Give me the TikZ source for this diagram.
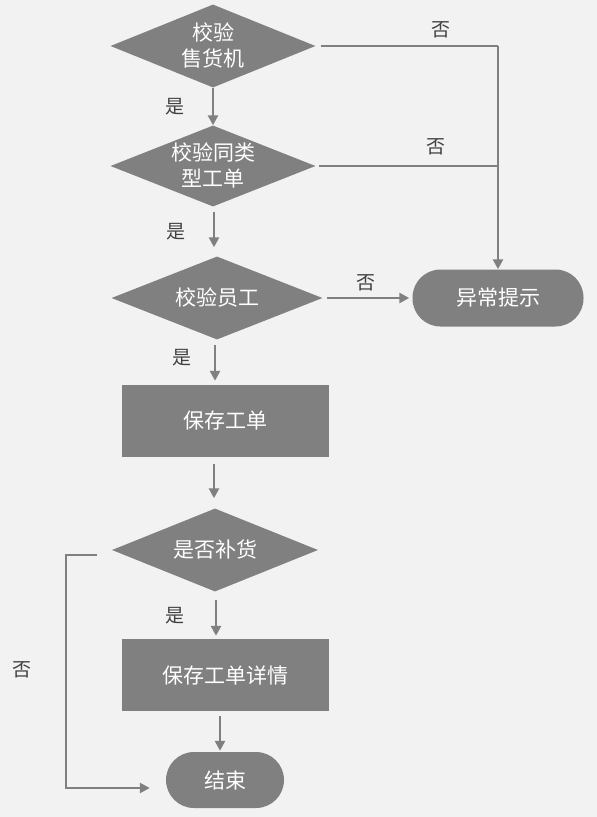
\documentclass[tikz,border=0pt]{standalone}
\usepackage{fontspec}
\setmainfont{Noto Sans CJK SC}
\usetikzlibrary{shapes.geometric,arrows.meta,calc}
\definecolor{bg}{HTML}{F2F2F2}
\definecolor{shp}{HTML}{808080}
\definecolor{lbl}{HTML}{404040}
\newcommand{\dtxt}[1]{\makebox[0pt]{\raisebox{-7pt}[0pt][0pt]{\begin{tabular}{@{}c@{}}#1\end{tabular}}}}
\begin{document}
\begin{tikzpicture}[x=1pt,y=-1pt,
  decision/.style={diamond,fill=shp,text=white,inner sep=0pt,minimum width=205pt,minimum height=83pt,font=\fontsize{21}{26}\selectfont},
  process/.style={rectangle,fill=shp,text=white,minimum width=207pt,minimum height=72pt,font=\fontsize{21}{26}\selectfont},
  terminal/.style={rectangle,rounded corners=28pt,fill=shp,text=white,font=\fontsize{21}{26}\selectfont},
  conn/.style={draw=shp,line width=2.6pt},
  arr/.style={conn,-{Triangle[length=10pt,width=10pt]}},
  yn/.style={text=lbl,font=\fontsize{19}{20}\selectfont}]
\fill[bg] (0,0) rectangle (597,817);
\useasboundingbox (0,0) rectangle (597,817);
\node[decision] (d1) at (213,46) {\dtxt{校验\\售货机}};
\node[decision, minimum height=81pt] (d2) at (213,166) {\dtxt{校验同类\\型工单}};
\node[decision, minimum width=211pt] (d3) at (217,298) {\dtxt{校验员工}};
\node[terminal,minimum width=171pt,minimum height=57pt] (e) at (498,298) {异常提示};
\node[process] (r1) at (225,421) {保存工单};
\node[decision, minimum width=206pt] (d4) at (215,550) {\dtxt{是否补货}};
\node[process] (r2) at (225,675) {保存工单详情};
\node[terminal,minimum width=118pt,minimum height=56pt] (end) at (225,780) {结束};
% yes arrows
\draw[arr] (d1.south) -- (d2.north);
\draw[arr,shorten <=5pt,shorten >=9pt] ([xshift=1pt]d2.south) -- ([xshift=1pt]d2.south |- d3.north);
\draw[arr,shorten <=5pt,shorten >=4pt] ([xshift=-2pt]d3.south) -- ([xshift=-2pt]d3.south |- r1.north);
\draw[arr,shorten <=7pt,shorten >=10pt] ([xshift=-1pt]d4.north |- r1.south) -- ([xshift=-1pt]d4.north);
\draw[arr,shorten <=8pt,shorten >=3pt] ([xshift=1pt]d4.south) -- ([xshift=1pt]d4.south |- r2.north);
\draw[arr,shorten <=5pt,shorten >=1pt] ([xshift=-5pt]r2.south) -- ([xshift=-5pt]r2.south |- end.north);
% no branches
\coordinate (c1) at (d1.east -| e.north);
\draw[conn,shorten <=5pt] (d1.east) -- (c1);
\draw[arr] (c1) -- (e.north);
\draw[conn,shorten <=3pt] (d2.east) -- (d2.east -| e.north);
\draw[arr,shorten <=4pt,shorten >=3pt] (d3.east) -- (e.west);
\coordinate (lp) at (66,555);
\draw[arr,shorten >=16pt] ([xshift=-15pt,yshift=-5pt]d4.west) -- (lp) |- ([yshift=-8pt]end.west);
% labels
\node[yn] (y1) at (175,107) {是};
\node[yn] (y2) at (176,232) {是};
\node[yn] (y3) at (182,358) {是};
\node[yn] (y4) at (175,616) {是};
\node[yn] (n1) at (441,30) {否};
\node[yn] (n2) at (436,147) {否};
\node[yn] (n3) at (366,283) {否};
\node[yn] (n4) at (22,670) {否};
\end{tikzpicture}
\end{document}
